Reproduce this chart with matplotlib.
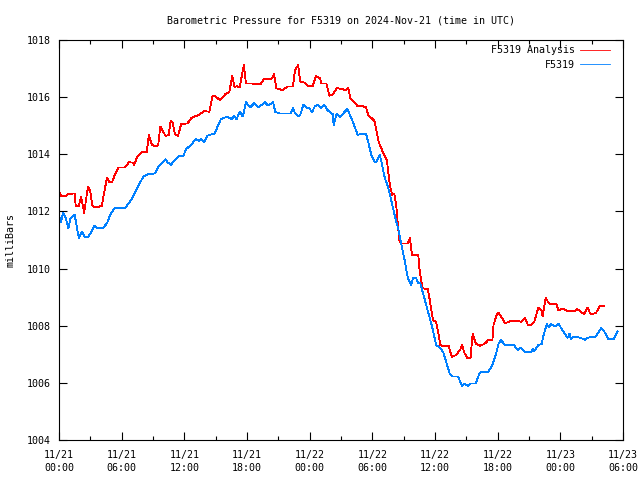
import matplotlib
matplotlib.use("Agg")
import matplotlib.pyplot as plt

# hours since 2024-11-21 00:00 UTC, pressure in mb
analysis_hours = [0.0, 0.2, 0.6, 0.9, 1.5, 1.6, 1.9, 2.1, 2.3, 2.4, 2.7, 2.8, 3.0, 3.2, 3.5,
                  4.1, 4.3, 4.6, 4.8, 5.1, 5.4, 5.7, 6.3, 6.7, 7.1, 7.2, 7.5, 7.9, 8.4, 8.6,
                  8.9, 9.3, 9.5, 9.7, 9.9, 10.2, 10.5, 10.7, 10.9, 11.1, 11.4, 11.7, 12.3, 12.7,
                  13.2, 13.6, 13.9, 14.4, 14.7, 15.0, 15.4, 16.0, 16.3, 16.6, 16.8, 17.0, 17.3,
                  17.5, 17.7, 17.9, 18.4, 19.0, 19.3, 19.6, 20.0, 20.4, 20.6, 20.8, 21.4, 21.9,
                  22.4, 22.6, 22.9, 23.1, 23.5, 23.9, 24.3, 24.6, 25.0, 25.1, 25.6, 25.9, 26.2,
                  26.6, 27.1, 27.4, 27.7, 27.9, 28.6, 29.1, 29.4, 29.6, 30.2, 30.4, 30.6, 30.9,
                  31.2, 31.4, 31.5, 31.7, 31.9, 32.1, 32.3, 32.4, 32.5, 32.6, 32.8, 33.4, 33.6,
                  33.8, 34.4, 34.5, 34.8, 35.3, 35.5, 35.8, 36.1, 36.3, 36.5, 36.8, 37.3, 37.6,
                  38.0, 38.4, 38.6, 38.8, 39.1, 39.4, 39.6, 39.9, 40.3, 40.8, 41.1, 41.5, 41.6,
                  41.9, 42.1, 42.3, 42.7, 43.0, 43.3, 43.7, 44.3, 44.6, 44.9, 45.2, 45.5, 45.9,
                  46.2, 46.3, 46.6, 46.9, 47.3, 47.6, 47.8, 48.3, 48.7, 49.4, 49.6, 50.0, 50.3,
                  50.6, 50.9, 51.4, 51.8, 52.2]
analysis_mb = [1012.72, 1012.54, 1012.54, 1012.61, 1012.63, 1012.19, 1012.19, 1012.50, 1012.19,
               1011.93, 1012.69, 1012.85, 1012.69, 1012.19, 1012.14, 1012.19, 1012.61, 1013.19,
               1013.04, 1013.04, 1013.33, 1013.54, 1013.54, 1013.72, 1013.71, 1013.63, 1013.92,
               1014.07, 1014.07, 1014.68, 1014.33, 1014.27, 1014.33, 1014.97, 1014.85, 1014.64,
               1014.68, 1015.18, 1015.08, 1014.70, 1014.65, 1015.06, 1015.08, 1015.28, 1015.35,
               1015.43, 1015.51, 1015.49, 1016.05, 1016.02, 1015.90, 1016.13, 1016.18, 1016.74,
               1016.35, 1016.38, 1016.35, 1016.74, 1017.13, 1016.48, 1016.48, 1016.46, 1016.45,
               1016.62, 1016.63, 1016.65, 1016.80, 1016.31, 1016.25, 1016.37, 1016.37, 1016.95,
               1017.12, 1016.54, 1016.51, 1016.37, 1016.39, 1016.74, 1016.66, 1016.48, 1016.48,
               1016.05, 1016.10, 1016.31, 1016.29, 1016.23, 1016.31, 1015.97, 1015.68, 1015.68,
               1015.64, 1015.38, 1015.17, 1014.80, 1014.44, 1014.17, 1013.92, 1013.80, 1013.45,
               1012.87, 1012.58, 1012.63, 1012.17, 1011.70, 1011.32, 1010.94, 1010.88, 1010.88,
               1011.06, 1010.48, 1010.48, 1010.01, 1009.31, 1009.28, 1008.90, 1008.20, 1008.14,
               1007.79, 1007.33, 1007.27, 1007.29, 1006.91, 1006.97, 1007.15, 1007.33, 1007.06,
               1006.86, 1006.86, 1007.71, 1007.38, 1007.29, 1007.38, 1007.50, 1007.50, 1008.02,
               1008.38, 1008.45, 1008.33, 1008.10, 1008.12, 1008.17, 1008.17, 1008.14, 1008.28,
               1008.02, 1008.02, 1008.14, 1008.63, 1008.55, 1008.32, 1008.98, 1008.78, 1008.75,
               1008.78, 1008.55, 1008.59, 1008.52, 1008.52, 1008.59, 1008.47, 1008.40, 1008.63,
               1008.40, 1008.44, 1008.70, 1008.70]

station_hours = [0.0, 0.2, 0.4, 0.6, 0.9, 1.1, 1.5, 1.7, 1.9, 2.2, 2.5, 2.8, 3.2, 3.4, 3.7, 4.2,
                 4.6, 4.9, 5.3, 6.3, 6.9, 7.3, 7.7, 8.1, 8.6, 9.2, 9.5, 9.9, 10.2, 10.4, 10.7,
                 11.4, 11.9, 12.2, 12.7, 13.1, 13.4, 13.6, 13.9, 14.2, 14.9, 15.5, 16.1, 16.5,
                 16.8, 17.0, 17.3, 17.6, 17.9, 18.3, 18.7, 19.1, 19.7, 20.0, 20.5, 20.7, 21.1,
                 22.2, 22.4, 22.6, 22.9, 23.1, 23.4, 23.8, 24.0, 24.2, 24.5, 24.8, 25.1, 25.4,
                 25.7, 26.0, 26.2, 26.3, 26.6, 26.9, 27.6, 28.0, 28.3, 28.6, 28.9, 29.4, 29.6,
                 29.9, 30.2, 30.4, 30.7, 30.9, 31.2, 31.5, 31.8, 32.1, 32.5, 32.8, 33.1, 33.4,
                 33.7, 33.9, 34.2, 34.4, 34.6, 34.9, 35.2, 35.5, 35.8, 36.1, 36.5, 36.8, 37.1,
                 37.4, 37.7, 38.2, 38.6, 38.8, 39.2, 39.4, 39.9, 40.2, 40.4, 41.1, 41.5, 41.9,
                 42.1, 42.3, 42.7, 43.0, 43.6, 43.9, 44.2, 44.6, 45.2, 45.4, 45.5, 45.9, 46.2,
                 46.4, 46.7, 46.9, 47.1, 47.5, 47.8, 48.3, 48.7, 48.9, 49.0, 49.3, 49.9, 50.4,
                 50.6, 51.4, 51.9, 52.2, 52.6, 53.1, 53.5]
station_mb = [1011.84, 1011.64, 1011.96, 1011.82, 1011.41, 1011.76, 1011.88, 1011.47, 1011.06,
              1011.29, 1011.09, 1011.11, 1011.35, 1011.50, 1011.41, 1011.41, 1011.59, 1011.88,
              1012.11, 1012.11, 1012.40, 1012.69, 1012.98, 1013.22, 1013.31, 1013.33, 1013.57,
              1013.71, 1013.83, 1013.72, 1013.63, 1013.92, 1013.95, 1014.19, 1014.35, 1014.54,
              1014.47, 1014.54, 1014.42, 1014.65, 1014.73, 1015.23, 1015.32, 1015.23, 1015.34,
              1015.23, 1015.49, 1015.32, 1015.82, 1015.64, 1015.79, 1015.64, 1015.82, 1015.71,
              1015.82, 1015.49, 1015.43, 1015.43, 1015.61, 1015.43, 1015.34, 1015.38, 1015.73,
              1015.61, 1015.61, 1015.46, 1015.68, 1015.73, 1015.61, 1015.73, 1015.55, 1015.46,
              1015.41, 1015.03, 1015.43, 1015.31, 1015.58, 1015.26, 1014.97, 1014.68, 1014.71,
              1014.71, 1014.44, 1013.98, 1013.74, 1013.74, 1013.98, 1013.69, 1013.16, 1012.87,
              1012.40, 1011.93, 1011.35, 1010.80, 1010.28, 1009.66, 1009.43, 1009.66, 1009.66,
              1009.50, 1009.48, 1009.08, 1008.67, 1008.26, 1007.85, 1007.33, 1007.22, 1007.06,
              1006.69, 1006.33, 1006.22, 1006.22, 1005.89, 1005.96, 1005.89, 1005.98, 1005.98,
              1006.28, 1006.39, 1006.39, 1006.63, 1007.09, 1007.38, 1007.50, 1007.33, 1007.33,
              1007.31, 1007.15, 1007.23, 1007.09, 1007.09, 1007.20, 1007.11, 1007.33, 1007.35,
              1007.68, 1008.06, 1007.94, 1008.06, 1007.97, 1008.08, 1007.79, 1007.58, 1007.73,
              1007.53, 1007.62, 1007.58, 1007.50, 1007.58, 1007.62, 1007.91, 1007.80, 1007.53,
              1007.53, 1007.80]

xtick_hours = [0, 6, 12, 18, 24, 30, 36, 42, 48, 54]
xtick_labels = ["11/21\n00:00", "11/21\n06:00", "11/21\n12:00", "11/21\n18:00",
                "11/22\n00:00", "11/22\n06:00", "11/22\n12:00", "11/22\n18:00",
                "11/23\n00:00", "11/23\n06:00"]
ytick_values = [1004, 1006, 1008, 1010, 1012, 1014, 1016, 1018]

plt.rcParams["font.family"] = "DejaVu Sans Mono"
plt.rcParams["font.size"] = 7.2

fig = plt.figure(figsize=(6.4, 4.8), dpi=100)
ax = fig.add_axes([59 / 640, 40 / 480, 564 / 640, 400 / 480])

ax.plot(analysis_hours, analysis_mb, color="#ff0000", linewidth=0.6,
        antialiased=False, label="F5319 Analysis")
ax.plot(station_hours, station_mb, color="#0080ff", linewidth=0.6,
        antialiased=False, label="F5319")

ax.set_xlim(0, 54)
ax.set_ylim(1004, 1018)
ax.set_xticks(xtick_hours)
ax.set_xticklabels(xtick_labels, linespacing=1.4)
ax.set_xticks(range(3, 54, 6), minor=True)
ax.set_yticks(ytick_values)
ax.tick_params(which="both", direction="in", top=True, right=True, width=0.8)
ax.tick_params(which="major", length=6)
ax.tick_params(axis="x", which="major", pad=7)
ax.tick_params(axis="y", which="major", pad=6)
ax.tick_params(which="minor", length=3)
for s in ax.spines.values():
    s.set_linewidth(0.8)

ax.set_ylabel("milliBars", labelpad=8)
ax.set_title("Barometric Pressure for F5319 on 2024-Nov-21 (time in UTC)",
             fontsize=7.2, pad=12)

leg = ax.legend(loc="upper right", bbox_to_anchor=(1 - 9 / 564, 0.997),
                frameon=False, markerfirst=False,
                handlelength=3.0, handletextpad=0.5, labelspacing=0.45,
                borderaxespad=0.0, fontsize=7.2)
for t in leg.get_texts():
    t.set_ha("right")

fig.savefig("out.png", dpi=100)
